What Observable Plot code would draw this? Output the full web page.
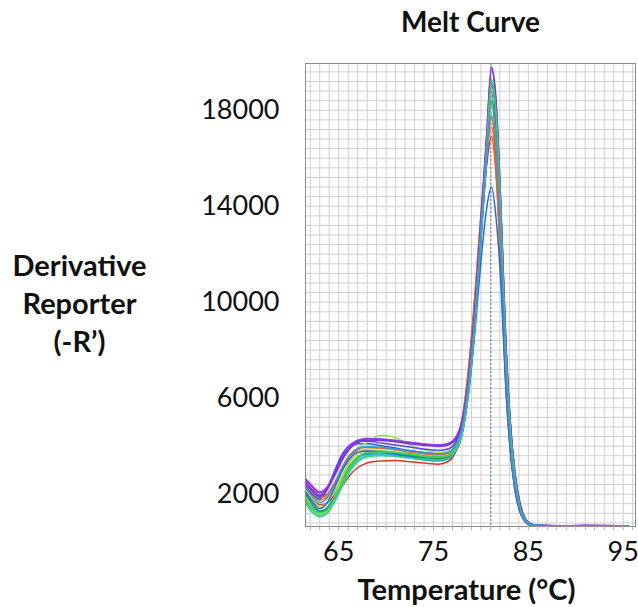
<!DOCTYPE html>
<html>
<head>
<meta charset="utf-8">
<script src="https://cdn.jsdelivr.net/npm/d3@7"></script>
<script src="https://cdn.jsdelivr.net/npm/@observablehq/plot@0.6"></script>
<style>
  html, body { margin: 0; padding: 0; background: #fff; }
  #chart svg { display: block; }
</style>
</head>
<body>
<div id="chart"></div>
<script>
// Temperatures (°C) at which the derivative reporter is read
const temps = [61.5, 62.2, 63.0, 63.8, 64.6, 65.4, 66.2, 67.0, 68.0, 69.5, 71.0, 72.5, 74.0, 75.5, 76.5,
  77.3, 78.0, 78.7, 79.4, 80.0, 80.6, 81.1, 81.6, 82.1, 82.6, 83.1, 83.6, 84.1, 84.6, 85.2, 86.0, 88.0, 91.0, 95.5];

// Derivative reporter (-R') for each well
const w01 = [1900,1500,1250,1450, 2000,2650,3200,3500, 3650,3650,3580,3500,3420,3380,3450, 3750,4500,6300,9200,12600,15900, 17800, 16200,12300,7400,4200,2350,1400,930,720, 680,670,680,670];
const w02 = [2100,1800,1550,1650, 1950,2350,2800,3100, 3300,3380,3400,3350,3300,3250,3350, 3750,4700,6800,9900,13000,15700, 16900, 15300,11500,6900,3900,2200,1300,900,710, 680,670,690,680];
const w03 = [2300,2000,1750,1900, 2400,3000,3450,3700, 3800,3780,3700,3620,3550,3500,3550, 3950,5000,7200,10400,13600,16200, 17300, 15500,11400,6700,3800,2150,1280,880,710, 690,670,680,670];
const w04 = [1700,1350,1150,1350, 1900,2600,3200,3550, 3750,3800,3750,3680,3600,3560,3620, 3900,4600,6400,9300,12800,16300, 19000, 17600,13300,8000,4600,2600,1500,980,740, 690,680,680,670];
const w05 = [2400,2000,1800,2200, 2900,3600,3950,4100, 4100,4020,3920,3820,3740,3680,3720, 3950,4700,6500,9400,12600,15900, 18800, 16800,12400,7300,4100,2300,1350,910,720, 680,670,680,670];
const w06 = [1800,1400,1100,1250, 1750,2400,3000,3400, 3600,3650,3620,3560,3500,3460,3520, 3800,4500,6300,9200,12700,16100, 18600, 17300,13200,8000,4600,2550,1480,970,740, 690,670,680,670];
const w07 = [1900,1450,1150,1300, 1900,2700,3400,3900, 4150,4450,4350,4050,3850,3750,3800, 4050,4800,6600,9600,13000,16400, 18900, 17400,13100,7800,4400,2450,1420,950,730, 690,670,680,670];
const w08 = [2650,2350,2100,2300, 2800,3450,3950,4200, 4300,4280,4230,4150,4080,4050,4100, 4350,5100,6900,9800,13200,16600, 19100, 17900,13800,8500,4900,2800,1620,1020,760, 700,680,690,680];
const w09 = [2000,1600,1300,1400, 1850,2500,3100,3500, 3700,3720,3680,3600,3520,3480,3540, 3850,4600,6500,9400,12900,16200, 18400, 17000,12900,7800,4500,2500,1450,950,730, 690,670,680,670];
const w10 = [2200,1800,1500,1650, 2150,2800,3350,3700, 3880,3900,3850,3770,3690,3640,3690, 4000,4800,6700,9700,13100,16200, 18200, 16500,12300,7300,4100,2300,1350,910,720, 690,670,680,670];
const w11 = [2450,2100,1850,2000, 2500,3100,3600,3850, 3950,3920,3850,3760,3680,3640,3700, 4050,5100,7300,10500,13700,16400, 17700, 15800,11600,6800,3850,2180,1300,890,710, 690,670,680,670];
const w12 = [2500,2150,1900,2250, 3000,3700,4050,4200, 4200,4130,4050,3960,3880,3830,3880, 4150,4900,6800,9700,13000,16400, 19200, 17600,13300,8000,4600,2600,1500,980,740, 690,670,680,670];
const w13 = [2100,1700,1400,1650, 2300,3000,3500,3750, 3800,3750,3650,3560,3480,3420,3480, 3750,4450,6200,8900,11700,13900, 14800, 13500,10800,6600,3800,2150,1280,880,710, 680,670,680,670];
const w14 = [1600,1250,1050,1200, 1700,2350,2950,3350, 3550,3600,3580,3520,3460,3420,3480, 3800,4500,6300,9200,12800,16400, 19200, 18000,13900,8500,4900,2750,1580,1000,750, 690,670,680,670];
const w15 = [2600,2300,2050,2300, 2900,3550,4000,4250, 4320,4300,4240,4160,4090,4050,4100, 4300,5000,6900,9900,13400,17000, 19700, 18300,14000,8600,5000,2850,1650,1040,770, 700,680,690,680];
const w16 = [2500,2200,1950,2200, 2800,3450,3900,4150, 4250,4230,4180,4100,4030,3990,4040, 4250,4950,6800,9800,13300,16900, 19800, 18400,14100,8700,5000,2850,1650,1040,770, 700,680,690,680];
const w17 = [1800,1450,1200,1350, 1850,2500,3100,3500, 3720,3760,3720,3650,3580,3540,3600, 3900,4650,6500,9500,13000,16500, 19300, 17900,13600,8200,4700,2650,1520,980,740, 690,670,680,670];
const w18 = [2300,1900,1650,1850, 2450,3150,3650,3900, 3980,3950,3880,3800,3720,3680,3730, 4000,4750,6600,9500,12900,16200, 18300, 16600,12500,7400,4200,2350,1380,920,720, 690,670,680,670];

const wells = [w01, w02, w03, w04, w05, w06, w07, w08, w09, w10, w11, w12, w13, w14, w15, w16, w17, w18];
const wellColors = ["#1fa6a6", "#d83a2a", "#f07828", "#2ec84a", "#2f5be0", "#35c0d8", "#98e048", "#d23ad0", "#1f9a5a",
  "#b8d040", "#e85a30", "#5a48e8", "#2a6ad0", "#3cd090", "#8a3ae0", "#7c2ee8", "#44d060", "#3a9ad8"];

const xTicks = [65, 75, 85, 95];
const yTicks = [2000, 6000, 10000, 14000, 18000];
const markerTemp = [81.05];

const rows = wells.flatMap((vals, i) => vals.map((v, j) => ({well: i, t: temps[j], v})));

const font = "Lato, 'Open Sans', sans-serif";

const chart = Plot.plot({
  width: 638,
  height: 607,
  marginLeft: 305,
  marginRight: 3,
  marginTop: 63,
  marginBottom: 81,
  style: {fontFamily: font, color: "#111", background: "#fff"},
  x: {domain: [61.5, 96.3]},
  y: {domain: [650, 19950]},
  marks: [
    Plot.gridX(d3.range(62, 97, 1), {stroke: "#cfcfcf", strokeOpacity: 1}),
    Plot.gridY(d3.range(800, 19950, 400), {stroke: "#cfcfcf", strokeOpacity: 1}),
    Plot.ruleX(markerTemp, {stroke: "#5577bb", strokeDasharray: "2,2", strokeWidth: 1}),
    Plot.lineY(rows, {x: "t", y: "v", z: "well", stroke: d => wellColors[d.well], strokeWidth: 1.5, curve: "monotone-x"}),
    Plot.frame({stroke: "#8a8a8a"}),
    Plot.axisX(d3.range(62, 97, 1), {tickSize: 4, stroke: "#aaa", text: null, label: null}),
    Plot.axisX(xTicks, {tickSize: 0, tickPadding: 15, fontSize: 27, tickFormat: d => String(d), label: null}),
    Plot.axisY(yTicks, {tickSize: 0, tickPadding: 26, fontSize: 27, tickFormat: d => String(d), label: null}),
    Plot.text(["Melt Curve"], {frameAnchor: "top", lineAnchor: "middle", dy: -40, fontSize: 28, fontWeight: "bold", fill: "#111"}),
    Plot.text(["Temperature (°C)"], {frameAnchor: "bottom", lineAnchor: "middle", dy: 64, dx: -4, fontSize: 29, fontWeight: "bold", fill: "#111"}),
    Plot.text(["Derivative\nReporter\n(-R’)"], {frameAnchor: "left", dx: -226, dy: 7, textAnchor: "middle", lineAnchor: "middle", lineHeight: 1.3, fontSize: 29, fontWeight: "bold", fill: "#111"})
  ]
});
document.getElementById("chart").append(chart);
</script>
</body>
</html>
